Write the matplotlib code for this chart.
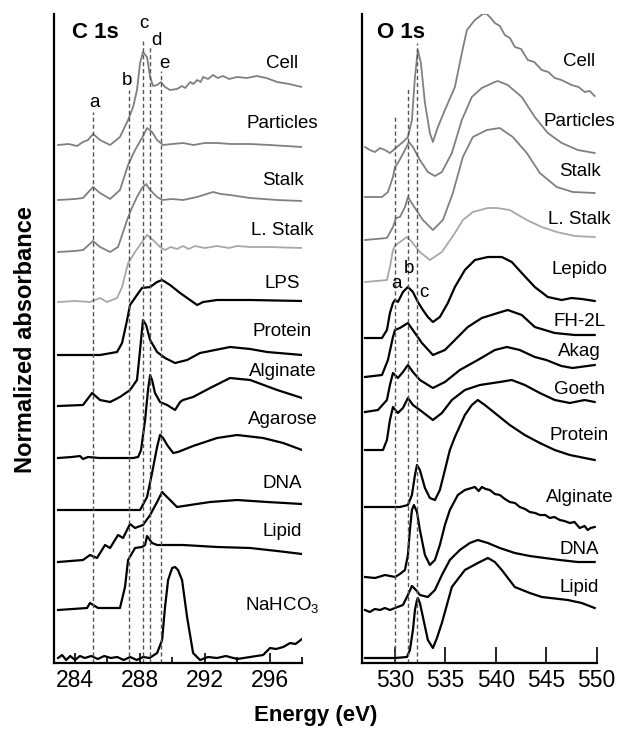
import matplotlib
matplotlib.use("Agg")
import matplotlib.pyplot as plt
from matplotlib import font_manager

# narrow face for axis text if it is there
installed = {f.name for f in font_manager.fontManager.ttflist}
NARROW_OK = "Liberation Sans Narrow" in installed
NARROW = "Liberation Sans Narrow" if NARROW_OK else "Liberation Sans"
TICK_SIZE = 20 if NARROW_OK else 16.5
AXLABEL_SIZE = 20.5 if NARROW_OK else 17

plt.rcParams["font.family"] = ["Liberation Sans", "DejaVu Sans"]

# ---- C 1s spectra: (energy eV, normalized absorbance) ----
c_cell = [(282.95, 0.00), (283.6, 0.02), (284.12, -0.02), (284.49, 0.06), (284.8, 0.10),
          (285.11, 0.22), (285.54, 0.10), (286.16, 0.00), (286.77, 0.16), (287.27, 0.50),
          (287.58, 0.76), (287.82, 1.10), (288.01, 1.64), (288.19, 1.86), (288.44, 1.76),
          (288.63, 1.36), (288.81, 1.18), (289.06, 1.20), (289.30, 1.26), (289.55, 1.16),
          (289.86, 1.10), (290.29, 1.12), (290.6, 1.18), (290.8, 1.14), (291.1, 1.26),
          (291.3, 1.22), (291.53, 1.30), (291.75, 1.26), (291.9, 1.36), (292.2, 1.32),
          (292.51, 1.40), (292.8, 1.34), (293.13, 1.38), (293.5, 1.32), (294.0, 1.36),
          (294.6, 1.34), (295.2, 1.38), (295.8, 1.34), (296.47, 1.26), (297.2, 1.22), (298.0, 1.16)]
c_particles = [(282.95, 0), (284.0, 0.02), (284.49, 0.04), (285.11, 0.26), (285.54, 0.14),
               (286.16, 0.02), (286.77, 0.20), (287.27, 0.70), (287.70, 1.00), (288.13, 1.24),
               (288.44, 1.44), (288.75, 1.36), (289.06, 1.20), (289.43, 1.10), (290.0, 1.12),
               (290.66, 1.14), (291.3, 1.10), (292.0, 1.14), (292.76, 1.14), (293.6, 1.12),
               (294.80, 1.12), (296.0, 1.10), (298.0, 1.06)]
c_stalk = [(282.95, 0), (284.0, 0.02), (284.49, 0.04), (285.11, 0.22), (285.54, 0.10),
           (286.16, 0), (286.65, 0.10), (287.21, 0.64), (287.5, 0.88), (287.82, 1.10),
           (288.13, 1.28), (288.38, 1.36), (288.63, 1.24), (289.06, 1.10), (289.37, 1.04),
           (290.0, 1.06), (290.66, 1.04), (291.53, 1.10), (292.51, 1.20), (293.0, 1.16),
           (293.56, 1.14), (294.80, 1.08), (296.47, 1.04), (298.0, 1.02)]
c_lstalk = [(282.95, 0), (284.0, 0.02), (284.92, 0), (285.54, 0.08), (285.97, 0),
            (286.59, 0.08), (286.90, 0.30), (287.27, 0.78), (287.70, 1.00), (288.13, 1.20),
            (288.44, 1.34), (288.81, 1.24), (289.24, 1.10), (289.55, 1.04), (289.9, 1.10),
            (290.29, 1.06), (290.66, 1.12), (291.0, 1.06), (291.4, 1.12), (292.0, 1.08),
            (292.76, 1.12), (293.5, 1.08), (294.0, 1.12), (294.80, 1.10), (296.0, 1.10), (298.0, 1.08)]
c_lps = [(282.95, 0), (285.54, 0), (286.59, 0.06), (286.90, 0.24), (287.21, 0.70),
         (287.39, 1.00), (287.82, 1.20), (288.13, 1.34), (288.63, 1.36), (289.06, 1.46),
         (289.37, 1.50), (289.86, 1.40), (290.48, 1.24), (291.53, 1.00), (291.90, 1.06),
         (292.76, 1.10), (294.80, 1.10), (298.0, 1.08)]
c_protein = [(282.95, 0), (284.49, 0.02), (285.05, 0.26), (285.54, 0.12), (286.16, 0.08),
             (286.77, 0.18), (287.39, 0.32), (287.82, 0.52), (288.01, 1.12), (288.19, 1.72),
             (288.38, 1.62), (288.63, 1.32), (289.06, 1.08), (289.55, 0.96), (290.17, 0.86),
             (290.91, 0.92), (291.71, 1.06), (293.56, 1.18), (294.80, 1.14), (295.85, 1.08), (298.0, 1.02)]
c_alginate = [(282.95, 0), (283.8, 0.02), (284.30, 0.04), (284.49, -0.02), (284.80, 0.02),
              (285.5, 0), (287.58, 0), (287.89, 0.02), (288.07, 0.16), (288.32, 0.76),
              (288.50, 1.36), (288.63, 1.66), (288.75, 1.56), (288.93, 1.30), (289.24, 1.12),
              (289.68, 1.06), (290.17, 0.96), (290.48, 1.12), (290.66, 1.16), (291.28, 1.22),
              (292.33, 1.40), (293.56, 1.60), (294.80, 1.56), (296.47, 1.36), (298.0, 1.20)]
c_agarose = [(282.95, 0), (288.01, 0), (288.44, 0.26), (288.75, 0.74), (289.06, 1.26),
             (289.24, 1.50), (289.43, 1.44), (289.68, 1.30), (290.05, 1.14), (290.35, 1.16),
             (290.66, 1.20), (291.28, 1.28), (292.76, 1.44), (294.00, 1.50), (295.60, 1.44),
             (296.84, 1.34), (298.0, 1.20)]
c_dna = [(282.95, 0), (284.49, 0.04), (284.92, 0.14), (285.35, 0.08), (285.85, 0.34),
         (286.16, 0.28), (286.65, 0.54), (286.96, 0.48), (287.39, 0.76), (287.70, 0.68),
         (288.19, 0.74), (288.63, 0.94), (289.06, 1.20), (289.37, 1.40), (289.61, 1.32),
         (289.86, 1.24), (290.29, 1.10), (291.10, 1.14), (292.33, 1.20), (294.00, 1.24),
         (295.85, 1.20), (298.0, 1.16)]
c_lipid = [(282.95, 0), (284.74, 0.04), (284.92, 0.14), (285.42, 0.04), (286.77, 0.04),
           (287.08, 0.46), (287.27, 1.00), (287.70, 1.24), (288.13, 1.26), (288.32, 1.30),
           (288.44, 1.48), (288.75, 1.34), (289.06, 1.30), (290.66, 1.30), (292.76, 1.26),
           (294.80, 1.24), (296.47, 1.18), (298.0, 1.12)]
c_nahco3 = [(282.95, 0), (283.2, 0.06), (283.45, -0.04), (283.7, 0.04), (284.0, -0.04),
            (284.3, 0.04), (284.6, 0), (285.0, 0.04), (285.4, -0.02), (285.8, 0.04),
            (286.2, 0), (286.6, 0.02), (287.0, -0.04), (287.4, 0.02), (287.8, -0.04),
            (288.2, 0.02), (288.6, 0), (289.06, 0.10), (289.37, 0.36), (289.55, 1.02),
            (289.74, 1.56), (289.99, 1.80), (290.17, 1.82), (290.35, 1.76), (290.60, 1.56),
            (290.91, 0.82), (291.28, 0.10), (291.71, -0.04), (292.2, 0.02), (292.76, 0),
            (293.3, 0.04), (294.0, -0.02), (294.80, 0.02), (295.2, 0.04), (295.60, 0.06),
            (296.03, 0.20), (296.4, 0.18), (296.84, 0.22), (297.27, 0.30), (297.6, 0.28), (298.0, 0.38)]

C_NAMES = ["Cell", "Particles", "Stalk", "L. Stalk", "LPS", "Protein", "Alginate",
           "Agarose", "DNA", "Lipid", r"NaHCO$_\mathregular{3}$"]
C_SPECTRA = [c_cell, c_particles, c_stalk, c_lstalk, c_lps, c_protein, c_alginate,
             c_agarose, c_dna, c_lipid, c_nahco3]
C_OFFSETS = [10.36, 9.26, 8.22, 7.22, 6.16, 5.14, 4.10, 3.06, 2.02, 1.06, 0.10]
C_LABEL_Y = [11.89, 10.69, 9.55, 8.55, 7.49, 6.53, 5.75, 4.79, 3.49, 2.55, 1.05]
C_PEAKS = [285.1, 287.3, 288.2, 288.6, 289.3]
C_PEAK_TOPS = [11.02, 11.46, 12.44, 12.32, 11.84]
C_PEAK_NAMES = ["a", "b", "c", "d", "e"]
C_PEAK_LABEL_POS = [(285.17, 11.12), (287.21, 11.56), (288.26, 12.70), (289.0, 12.36), (289.49, 11.90)]

# ---- O 1s spectra ----
o_cell = [(527.03, 0.06), (527.5, 0.0), (528.02, -0.04), (528.5, 0.04), (529.01, 0),
          (529.5, -0.06), (530.19, 0.06), (530.79, 0.16), (531.28, 0.26), (531.68, 0.60),
          (531.98, 1.46), (532.27, 2.00), (532.57, 1.74), (532.97, 0.94), (533.46, 0.34),
          (533.76, 0.16), (534.25, 0.46), (534.95, 0.80), (535.94, 1.26), (536.63, 1.94),
          (537.13, 2.40), (537.92, 2.60), (538.71, 2.72), (539.11, 2.72), (539.5, 2.64),
          (539.90, 2.54), (540.4, 2.48), (540.89, 2.30), (541.4, 2.24), (541.88, 2.06),
          (542.5, 2.02), (543.17, 1.80), (543.8, 1.76), (544.55, 1.60), (545.2, 1.56),
          (545.84, 1.44), (546.5, 1.40), (547.52, 1.30), (548.2, 1.26), (548.81, 1.16),
          (549.3, 1.18), (549.80, 1.08)]
o_particles = [(527.03, 0), (528.71, 0), (529.30, 0.10), (529.80, 0.40), (530.0, 0.60),
               (530.29, 0.68), (530.99, 0.94), (531.38, 1.10), (531.78, 1.00), (532.47, 0.74),
               (533.26, 0.50), (533.96, 0.42), (534.65, 0.50), (535.64, 0.88), (536.63, 1.54),
               (537.62, 2.00), (538.61, 2.18), (539.90, 2.30), (540.19, 2.32), (541.18, 2.24),
               (542.57, 2.00), (543.86, 1.60), (545.15, 1.28), (546.53, 1.08), (548.12, 0.94), (549.80, 0.88)]
o_stalk = [(527.03, 0), (529.20, 0.04), (529.80, 0.26), (530.10, 0.44), (530.49, 0.46),
           (530.99, 0.66), (531.28, 0.86), (531.78, 0.70), (532.77, 0.40), (533.76, 0.20),
           (534.75, 0.40), (535.74, 0.94), (536.73, 1.66), (537.72, 2.06), (539.11, 2.20),
           (540.39, 2.24), (541.68, 2.06), (543.07, 1.74), (544.36, 1.34), (546.04, 1.06),
           (547.62, 0.96), (549.80, 0.94)]
o_lstalk = [(527.03, 0), (529.20, 0.04), (529.50, 0.30), (529.80, 0.64), (530.0, 0.72),
            (530.49, 0.80), (531.19, 0.90), (531.68, 0.80), (532.47, 0.60), (533.46, 0.44),
            (534.65, 0.60), (535.94, 0.98), (536.73, 1.24), (537.72, 1.40), (539.21, 1.48),
            (540.10, 1.48), (541.38, 1.44), (543.07, 1.24), (544.55, 1.10), (546.04, 1.00),
            (547.82, 0.92), (549.80, 0.90)]
o_lepido = [(527.03, 0), (528.71, 0), (529.20, 0.16), (529.50, 0.50), (529.80, 0.70),
            (530.0, 0.76), (530.29, 0.72), (530.79, 0.92), (531.28, 1.02), (531.78, 0.92),
            (532.27, 0.72), (532.77, 0.56), (533.26, 0.42), (533.76, 0.32), (534.45, 0.42),
            (535.24, 0.70), (535.94, 1.02), (536.93, 1.36), (537.92, 1.56), (539.21, 1.62),
            (540.59, 1.62), (541.58, 1.52), (542.57, 1.30), (543.86, 1.02), (545.15, 0.82),
            (546.53, 0.76), (547.5, 0.80), (548.51, 0.78), (549.2, 0.76), (549.80, 0.74)]
o_fh2l = [(527.03, 0), (528.71, 0.04), (529.30, 0.34), (529.80, 0.80), (530.0, 0.94),
          (530.49, 0.98), (531.28, 1.08), (531.98, 0.88), (532.67, 0.68), (533.76, 0.44),
          (534.95, 0.54), (535.94, 0.74), (537.22, 1.00), (538.61, 1.18), (540.19, 1.28),
          (541.18, 1.34), (542.57, 1.24), (543.86, 1.00), (545.84, 0.88), (547.82, 0.84), (549.80, 0.84)]
o_akag = [(527.03, 0), (528.31, 0.04), (529.20, 0.24), (529.50, 0.54), (529.80, 0.78),
          (530.29, 0.68), (530.79, 0.80), (531.28, 0.94), (531.78, 0.80), (532.47, 0.64),
          (533.76, 0.48), (534.95, 0.60), (536.43, 0.84), (538.21, 1.04), (539.90, 1.24),
          (541.09, 1.30), (542.37, 1.24), (543.86, 1.10), (545.0, 1.04), (546.5, 0.92),
          (547.6, 0.88), (549.80, 0.94)]
o_goeth = [(527.03, 0), (528.81, 0), (529.20, 0.20), (529.50, 0.60), (529.80, 0.86),
           (530.29, 0.74), (530.79, 0.84), (531.28, 1.04), (531.78, 0.90), (532.47, 0.80),
           (533.76, 0.60), (534.65, 0.74), (535.64, 1.00), (536.93, 1.20), (538.41, 1.30),
           (540.39, 1.36), (541.58, 1.40), (542.87, 1.30), (544.36, 1.14), (545.84, 1.00),
           (547.33, 0.94), (548.81, 1.00), (549.80, 0.96)]
o_protein = [(527.03, 0), (530.49, 0), (531.28, 0.04), (531.68, 0.24), (531.98, 0.64),
             (532.18, 0.84), (532.47, 0.74), (532.97, 0.38), (533.46, 0.18), (533.96, 0.14),
             (534.45, 0.34), (534.95, 0.74), (535.44, 1.14), (535.94, 1.40), (536.93, 1.84),
             (537.62, 2.04), (538.21, 2.14), (538.91, 2.04), (539.90, 1.88), (541.38, 1.64),
             (542.87, 1.44), (544.36, 1.28), (545.84, 1.14), (547.33, 1.04), (548.81, 0.98), (549.80, 0.94)]
o_alginate = [(527.03, 0), (528.02, -0.02), (529.01, 0.04), (530.0, 0), (530.49, 0.06),
              (530.99, 0.14), (531.28, 0.44), (531.48, 0.94), (531.68, 1.34), (531.88, 1.44),
              (532.18, 1.30), (532.47, 0.94), (532.97, 0.44), (533.46, 0.24), (533.96, 0.34),
              (534.45, 0.64), (534.95, 1.04), (535.44, 1.34), (536.23, 1.64), (536.93, 1.74),
              (537.92, 1.80), (538.3, 1.72), (538.61, 1.80), (539.0, 1.76), (539.40, 1.74),
              (539.9, 1.66), (540.39, 1.64), (540.9, 1.56), (541.38, 1.50), (541.9, 1.48),
              (542.37, 1.40), (542.9, 1.36), (543.36, 1.30), (543.9, 1.28), (544.36, 1.24),
              (544.9, 1.24), (545.35, 1.18), (545.8, 1.20), (546.34, 1.14), (546.8, 1.12),
              (547.33, 1.08), (547.8, 1.10), (548.31, 0.98), (548.8, 1.02), (549.11, 0.94),
              (549.4, 0.98), (549.80, 1.00)]
o_dna = [(527.03, 0), (527.5, -0.04), (528.0, 0.02), (528.51, 0), (529.0, 0.04),
         (529.5, 0.0), (530.0, 0.04), (530.79, 0.10), (531.28, 0.30), (531.68, 0.48),
         (532.08, 0.40), (532.47, 0.30), (533.26, 0.26), (533.96, 0.40), (534.65, 0.70),
         (535.44, 1.00), (536.43, 1.20), (537.42, 1.34), (538.21, 1.40), (539.21, 1.34),
         (540.39, 1.24), (541.88, 1.14), (543.36, 1.08), (544.85, 1.04), (546.34, 1.00),
         (548.12, 0.96), (549.80, 0.96)]
o_lipid = [(527.03, 0), (530.0, 0), (531.19, 0.02), (531.48, 0.16), (531.78, 0.56),
           (531.98, 0.96), (532.18, 1.16), (532.27, 1.20), (532.47, 1.10), (532.77, 0.82),
           (533.26, 0.36), (533.76, 0.20), (534.16, 0.40), (534.65, 0.70), (535.64, 1.42),
           (536.93, 1.76), (538.21, 1.90), (539.21, 2.00), (539.90, 1.92), (540.59, 1.76),
           (541.88, 1.42), (543.36, 1.30), (544.55, 1.22), (547.13, 1.16), (548.51, 1.10), (549.80, 1.00)]

O_NAMES = ["Cell", "Particles", "Stalk", "L. Stalk", "Lepido", "FH-2L", "Akag", "Goeth",
           "Protein", "Alginate", "DNA", "Lipid"]
O_SPECTRA = [o_cell, o_particles, o_stalk, o_lstalk, o_lepido, o_fh2l, o_akag, o_goeth,
             o_protein, o_alginate, o_dna, o_lipid]
O_OFFSETS = [10.26, 9.32, 8.46, 7.62, 6.50, 5.72, 5.02, 4.26, 3.12, 1.72, 1.06, 0.10]
O_LABEL_Y = [11.93, 10.73, 9.73, 8.79, 7.79, 6.73, 6.13, 5.39, 4.47, 3.23, 2.19, 1.43]
O_PEAKS = [530.0, 531.3, 532.2]
O_PEAK_TOPS = [10.92, 11.50, 12.40]
O_PEAK_NAMES = ["a", "b", "c"]
O_PEAK_LABEL_POS = [(530.19, 7.50), (531.38, 7.80), (532.87, 7.32)]

GRAY = "#808080"
LIGHT = "#a8a8a8"
COLORS = [GRAY, GRAY, GRAY, LIGHT]  # the rest are black


def draw_panel(ax, spectra, offsets, names, label_ys, label_x):
    for i, (pts, off, name, ly) in enumerate(zip(spectra, offsets, names, label_ys)):
        col = COLORS[i] if i < len(COLORS) else "black"
        e, a = zip(*pts)
        ax.plot(e, [v + off for v in a], color=col,
                lw=1.3 if col != "black" else 1.6, solid_joinstyle="round")
        ax.text(label_x, ly, name, ha="center", va="baseline", fontsize=13.5)


fig = plt.figure(figsize=(6.22, 7.33), dpi=100)
axL = fig.add_axes([54 / 622, 1 - 663 / 733, 248 / 622, 649 / 733])
axR = fig.add_axes([361.7 / 622, 1 - 663 / 733, 235 / 622, 649 / 733])

draw_panel(axL, C_SPECTRA, C_OFFSETS, C_NAMES, C_LABEL_Y, 296.8)
draw_panel(axR, O_SPECTRA, O_OFFSETS, O_NAMES, O_LABEL_Y, 548.3)

axL.vlines(C_PEAKS, 0, C_PEAK_TOPS, colors="#555555", linestyles=(0, (3, 2)), lw=1.0)
axR.vlines(O_PEAKS, 0, O_PEAK_TOPS, colors="#555555", linestyles=(0, (3, 2)), lw=1.0)
for n, (x, y) in zip(C_PEAK_NAMES, C_PEAK_LABEL_POS):
    axL.text(x, y, n, ha="center", va="baseline", fontsize=13.5)
for n, (x, y) in zip(O_PEAK_NAMES, O_PEAK_LABEL_POS):
    axR.text(x, y, n, ha="center", va="baseline", fontsize=13.5)

axL.text(0.165, (663 - 38) / 649, "C 1s", transform=axL.transAxes, ha="center",
         va="baseline", fontsize=16, fontweight="bold")
axR.text(0.167, (663 - 38) / 649, "O 1s", transform=axR.transAxes, ha="center",
         va="baseline", fontsize=16, fontweight="bold")

axL.set_xlim(282.7, 298.0)
axR.set_xlim(526.7, 550.0)
for ax in (axL, axR):
    ax.set_ylim(0, 12.98)
    ax.set_yticks([])
    for s in ("top", "right"):
        ax.spines[s].set_visible(False)
    for s in ("left", "bottom"):
        ax.spines[s].set_linewidth(1.6)
    ax.set_facecolor("none")

axL.set_xticks([284, 288, 292, 296])
axL.set_xticks([286, 290, 294, 298], minor=True)
axL.tick_params(axis="x", which="major", direction="in", length=7.2, width=1.2, pad=4)
axL.tick_params(axis="x", which="minor", direction="in", length=4.5, width=1.2)
axR.set_xticks([530, 535, 540, 545, 550])
axR.tick_params(axis="x", which="major", direction="in", length=11.5, width=1.2, pad=4)
for ax in (axL, axR):
    for lab in ax.get_xticklabels():
        lab.set_fontfamily(NARROW)
        lab.set_fontsize(TICK_SIZE)

fig.text(316 / 622, 1 - 715 / 733, "Energy (eV)", ha="center", va="center",
         fontsize=AXLABEL_SIZE - 1, fontweight="bold", family=NARROW)
fig.text(26 / 622, 1 - 340 / 733, "Normalized absorbance", ha="center", va="center",
         rotation=90, fontsize=AXLABEL_SIZE, fontweight="bold", family=NARROW)

fig.savefig("out.png", dpi=100)
